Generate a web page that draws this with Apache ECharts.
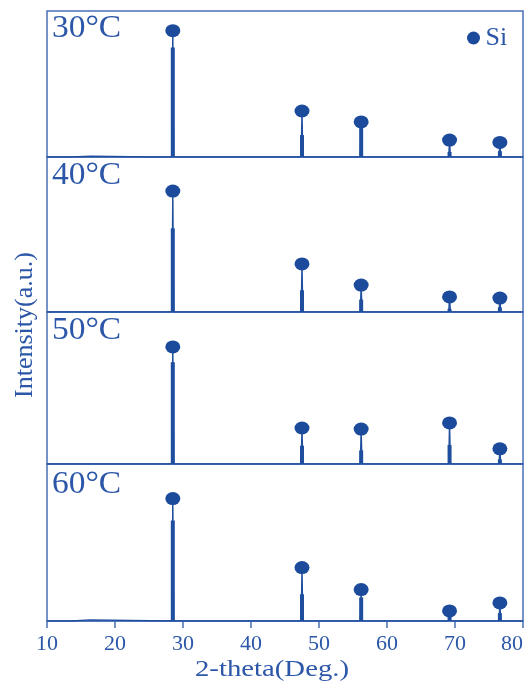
<!DOCTYPE html>
<html>
<head>
<meta charset="utf-8">
<script src="https://cdn.jsdelivr.net/npm/echarts@6/dist/echarts.min.js"></script>
<style>html,body{margin:0;padding:0;background:#fff}#c{width:532px;height:682px}</style>
</head>
<body>
<div id="c"></div>
<script>
// ---- data ----
const xTickLabels = [10, 20, 30, 40, 50, 60, 70, 80];
const panelLabels = ['30°C', '40°C', '50°C', '60°C'];
const peakPos = [28.5, 47.5, 56.2, 69.2, 76.6];          // 2-theta of Si peaks
// peak tops (marker heights), % of panel height
const peakTop30 = [86.5, 31.5, 24.0, 11.6, 10.0];
const peakTop40 = [78.0, 31.0, 17.4, 9.7, 9.0];
const peakTop50 = [77.0, 23.7, 23.0, 27.0, 10.0];
const peakTop60 = [78.0, 34.0, 20.0, 6.4, 11.5];
// heights of the broad (thick) part of each peak
const stem30 = [75.0, 15.0, 20.5, 3.4, 4.0];
const stem40 = [54.0, 14.0, 8.0, 2.0, 3.0];
const stem50 = [67.0, 12.0, 9.0, 12.5, 3.0];
const stem60 = [64.0, 17.0, 15.0, 3.0, 5.0];
// small baseline features [xStart, xEnd, height]
const minor30 = [[13.6, 16.4, 0.5], [25.7, 25.7, 1.0], [27.6, 27.6, 1.0], [38.4, 38.4, 1.2]];
const minor40 = [[13.8, 13.8, 0.6], [26.5, 26.5, 0.8], [38.6, 38.6, 0.8]];
const minor50 = [[11.0, 11.0, 0.8], [27.0, 27.0, 0.6]];
const minor60 = [[13.7, 16.3, 0.7]];

const peakTops = [peakTop30, peakTop40, peakTop50, peakTop60];
const stems = [stem30, stem40, stem50, stem60];
const minors = [minor30, minor40, minor50, minor60];

// ---- layout & style ----
const TEXT = '#2c57a8';
const LINE = '#1f4e9f';
const MARK = '#1d4b9c';
const FRAME = '#4a70b8';
const SERIF = '"Liberation Serif", "Times New Roman", serif';
const panelTop = [11, 157, 312, 464];
const panelH = [146, 155, 152, 157];

function spectrum(tops, minor) {
  const pts = [[10, 0], [80, 0]];
  tops.forEach((h, k) => {
    const x = peakPos[k];
    pts.push([x - 0.12, 0], [x, h], [x + 0.12, 0]);
  });
  minor.forEach(([x0, x1, h]) => {
    if (x0 === x1) pts.push([x0 - 0.1, 0], [x0, h], [x0 + 0.1, 0]);
    else pts.push([x0 - 0.05, 0], [x0, h], [x1, h], [x1 + 0.05, 0]);
  });
  pts.sort((a, b) => a[0] - b[0]);
  return pts;
}

const grid = [], xAxis = [], yAxis = [], series = [];
for (let i = 0; i < 4; i++) {
  const bottom = i === 3;
  grid.push({ left: 47, right: 9, top: panelTop[i], height: panelH[i], show: true,
    borderColor: FRAME, borderWidth: 1.5, backgroundColor: 'transparent' });
  xAxis.push({ gridIndex: i, type: 'value', min: 10, max: 80, interval: 10,
    splitLine: { show: false },
    axisLine: { show: bottom, onZero: false, lineStyle: { color: FRAME, width: 1.5 } },
    axisTick: { show: bottom, inside: false, length: 7, lineStyle: { color: FRAME, width: 1.5 } },
    axisLabel: { show: bottom, margin: 12, color: TEXT, fontFamily: SERIF, fontSize: 22,
      alignMaxLabel: 'right',
      formatter: v => (xTickLabels.includes(v) ? String(v) : '') } });
  yAxis.push({ gridIndex: i, type: 'value', min: 0, max: 100, show: false });
  series.push({ type: 'bar', xAxisIndex: i, yAxisIndex: i, barWidth: 4, silent: true,
    itemStyle: { color: LINE }, data: peakPos.map((x, k) => [x, stems[i][k]]), z: 2 });
  series.push({ type: 'line', xAxisIndex: i, yAxisIndex: i, symbol: 'none', silent: true,
    lineStyle: { color: LINE, width: 1.4 }, data: spectrum(peakTops[i], minors[i]), z: 3 });
  series.push({ type: 'scatter', name: 'Si', xAxisIndex: i, yAxisIndex: i, symbol: 'circle',
    symbolSize: [15, 13], itemStyle: { color: MARK, opacity: 1 },
    data: peakPos.map((x, k) => [x, peakTops[i][k]]), z: 4 });
}

const labelCenterOffset = [18, 19, 19, 21];
const graphic = panelLabels.map((t, i) => ({
  type: 'text', x: 52, y: panelTop[i] + labelCenterOffset[i], scaleX: 1.08,
  style: { text: t, fill: TEXT, font: '31px ' + SERIF, textAlign: 'left', textVerticalAlign: 'middle' }
}));
graphic.push({ type: 'text', x: 272, y: 670, scaleX: 1.25,
  style: { text: '2-theta(Deg.)', fill: TEXT, font: '23px ' + SERIF, textAlign: 'center', textVerticalAlign: 'middle' } });
graphic.push({ type: 'text', x: 25, y: 325, rotation: Math.PI / 2,
  style: { text: 'Intensity(a.u.)', fill: TEXT, font: '26px ' + SERIF, textAlign: 'center', textVerticalAlign: 'middle' } });

const chart = echarts.init(document.getElementById('c'), null, { renderer: 'canvas' });
chart.setOption({
  animation: false,
  backgroundColor: '#fff',
  grid, xAxis, yAxis, series, graphic,
  legend: { data: [{ name: 'Si', icon: 'circle' }], left: 462, top: 20, itemWidth: 14, itemHeight: 13,
    itemGap: 4, textStyle: { color: TEXT, fontFamily: SERIF, fontSize: 26 } }
});
</script>
</body>
</html>
